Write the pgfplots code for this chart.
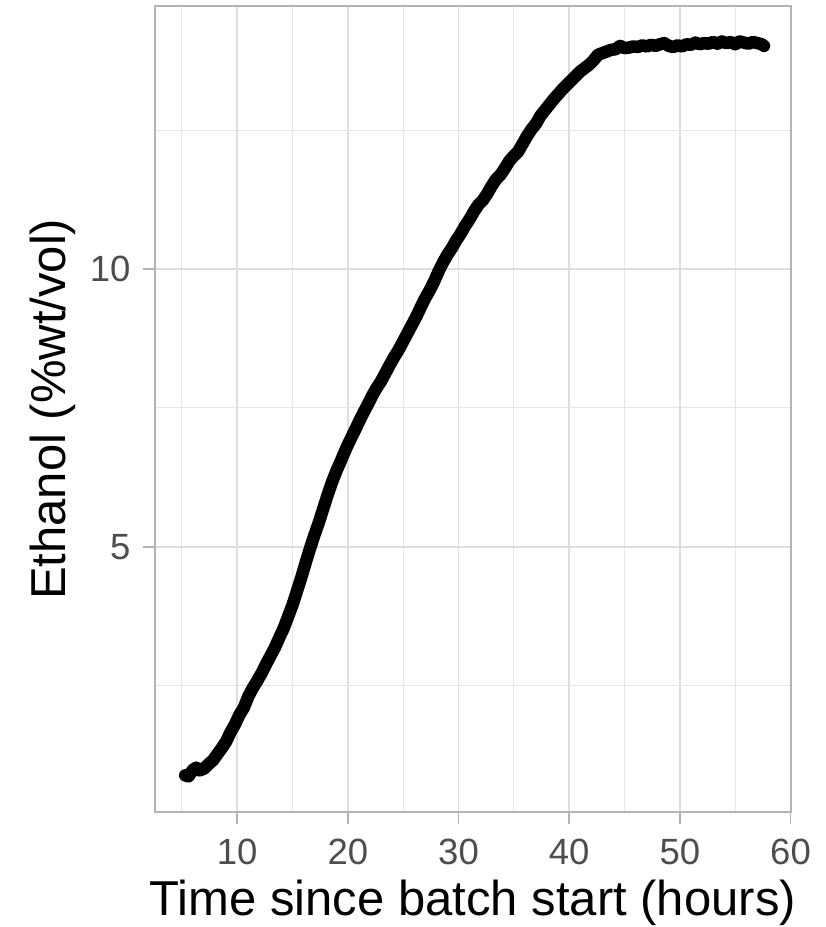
\documentclass[border=0pt]{standalone}
\usepackage{fontspec}
\setmainfont{Liberation Sans}
\usepackage{pgfplots}
\pgfplotsset{compat=1.18}
\definecolor{gridmaj}{HTML}{DEDEDE}
\definecolor{gridmin}{HTML}{E6E6E6}
\definecolor{framecol}{HTML}{B3B3B3}
\definecolor{ticktext}{HTML}{4D4D4D}
\pgfplotstableread{
x y
5.3 0.88
5.6 0.86
6.0 0.98
6.3 1.02
6.6 0.97
7.0 1.00
7.4 1.08
7.8 1.15
8.2 1.26
8.6 1.37
9.0 1.49
9.4 1.66
9.8 1.80
10.2 1.97
10.6 2.10
11.0 2.30
11.4 2.45
11.8 2.58
12.2 2.72
12.6 2.88
13.0 3.03
13.4 3.18
13.8 3.36
14.2 3.53
14.6 3.74
15.0 3.95
15.4 4.20
15.8 4.45
16.2 4.72
16.6 4.98
17.0 5.22
17.4 5.45
17.8 5.70
18.2 5.95
18.6 6.18
19.0 6.38
19.4 6.56
19.8 6.75
20.2 6.92
20.6 7.08
21.0 7.25
21.4 7.41
21.8 7.56
22.2 7.72
22.6 7.86
23.0 7.98
23.4 8.13
23.8 8.28
24.2 8.42
24.6 8.55
25.0 8.70
25.4 8.85
25.8 9.00
26.2 9.15
26.6 9.32
27.0 9.48
27.4 9.62
27.8 9.78
28.2 9.96
28.6 10.12
29.0 10.26
29.4 10.38
29.8 10.52
30.2 10.64
30.6 10.78
31.0 10.90
31.4 11.04
31.8 11.16
32.2 11.24
32.6 11.36
33.0 11.50
33.4 11.62
33.8 11.70
34.2 11.82
34.6 11.95
35.0 12.04
35.4 12.12
35.8 12.26
36.2 12.40
36.6 12.52
37.0 12.62
37.4 12.76
37.8 12.86
38.2 12.96
38.6 13.06
39.0 13.15
39.4 13.24
39.8 13.32
40.2 13.40
40.6 13.48
41.0 13.56
41.4 13.62
41.8 13.68
42.2 13.76
42.6 13.86
43.0 13.89
43.4 13.92
43.8 13.95
44.2 13.96
44.6 14.02
45.0 13.98
45.4 13.99
45.8 14.01
46.2 14.00
46.6 14.03
47.0 14.01
47.4 14.04
47.8 14.02
48.2 14.05
48.6 14.07
49.0 14.02
49.4 14.00
49.8 14.03
50.2 14.01
50.6 14.05
51.0 14.04
51.4 14.08
51.8 14.05
52.2 14.07
52.6 14.06
53.0 14.09
53.4 14.06
53.8 14.10
54.2 14.07
54.6 14.09
55.0 14.05
55.4 14.10
55.8 14.08
56.2 14.06
56.6 14.09
57.0 14.07
57.4 14.05
57.6 14.02
}\ethanol
\begin{document}
\begin{tikzpicture}
\useasboundingbox (0pt,0pt) rectangle (826pt,927pt);
\begin{axis}[
  at={(155pt,115pt)}, anchor=south west,
  scale only axis, width=635.5pt, height=805.5pt,
  xmin=2.57, xmax=60.0, ymin=0.22, ymax=14.73,
  xtick={10,20,30,40,50,60}, ytick={5,10},
  minor xtick={5,15,25,35,45,55}, minor ytick={2.5,7.5,12.5},
  grid=both,
  major grid style={gridmaj, line width=1.8pt},
  minor grid style={gridmin, line width=1.2pt},
  tick pos=left, tick align=outside,
  major tick length=12pt, minor tick length=0pt,
  tick style={framecol, line width=1.8pt},
  axis line style={framecol, line width=2pt},
  /pgf/number format/assume math mode=true,
  ticklabel style={font=\fontsize{36.5}{40}\selectfont, text=ticktext},
  xticklabel style={yshift=-11pt},
  yticklabel style={xshift=-9pt},
  xlabel={Time since batch start (hours)},
  ylabel={Ethanol (\%wt/vol)},
  label style={font=\fontsize{49}{52}\selectfont, text=black},
  xlabel style={at={(axis description cs:0.5,-0.12911)}, anchor=base},
  ylabel style={at={(axis description cs:-0.14162,0.5)}, anchor=base, rotate=0},
]
\addplot[black, line width=12.5pt, line cap=round, line join=round] table[x=x,y=y] {\ethanol};
\end{axis}
\end{tikzpicture}
\end{document}
